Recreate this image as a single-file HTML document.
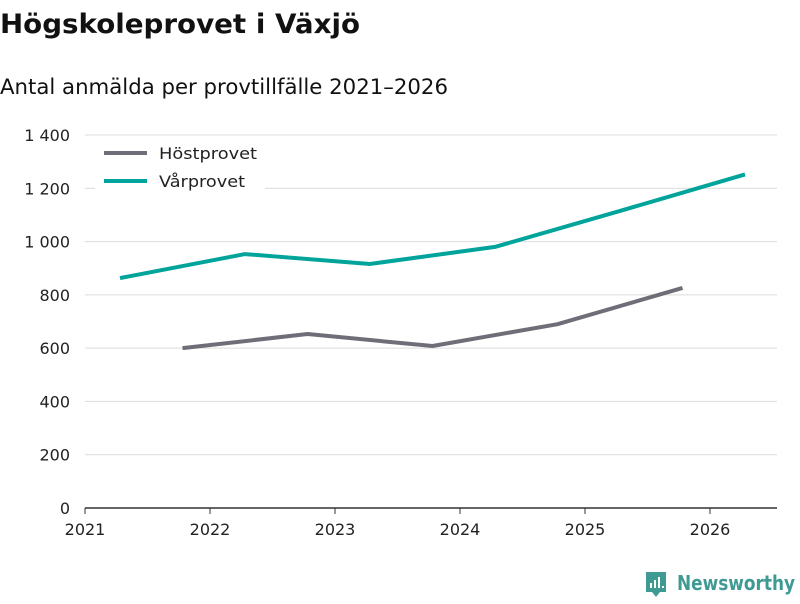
<!DOCTYPE html>
<html><head><meta charset="utf-8"><style>
body{margin:0;width:800px;height:600px;background:#fff;font-family:"DejaVu Sans","Liberation Sans",sans-serif;overflow:hidden}
</style></head><body>
<svg width="800" height="600" xmlns="http://www.w3.org/2000/svg" id="chart">
<text x="0" y="33" font-size="27" font-weight="bold" fill="#111" textLength="360" lengthAdjust="spacingAndGlyphs">Högskoleprovet i Växjö</text>
<text x="0" y="94" font-size="21" fill="#111" textLength="448" lengthAdjust="spacingAndGlyphs">Antal anmälda per provtillfälle 2021–2026</text>
<g id="grid"></g>
<g id="series"></g>
<g>
<rect x="95" y="140" width="170" height="58" fill="#fff"/>
<line x1="104" y1="153" x2="147" y2="153" stroke="#6e6e78" stroke-width="4"/>
<text x="159" y="159" font-size="16" fill="#222" textLength="98" lengthAdjust="spacingAndGlyphs">Höstprovet</text>
<line x1="104" y1="181" x2="147" y2="181" stroke="#00a49a" stroke-width="4"/>
<text x="159" y="187" font-size="16" fill="#222" textLength="86" lengthAdjust="spacingAndGlyphs">Vårprovet</text>
</g>
<g>
<path d="M646 572 h20 v20 h-6 l-4 5 l-4 -5 h-6 z" fill="#3f9a94"/>
<rect x="650" y="583" width="2" height="5" fill="#fff"/><rect x="654" y="580" width="2" height="8" fill="#fff"/><rect x="658" y="577" width="2" height="11" fill="#fff"/><rect x="662" y="586" width="2" height="2" fill="#fff"/>
<text x="677" y="590" font-size="20" font-weight="bold" fill="#3f9a94" textLength="118" lengthAdjust="spacingAndGlyphs">Newsworthy</text>
</g>
</svg>
<script>
const yTicks=[0,200,400,600,800,1000,1200,1400];
const yTickLabels=["0","200","400","600","800","1 000","1 200","1 400"];
const xTicks=[2021,2022,2023,2024,2025,2026];
const varDates=[2021.28,2022.28,2023.28,2024.28,2025.28,2026.28];
const varValues=[863,953,916,980,1115,1252];
const hostDates=[2021.78,2022.78,2023.78,2024.78,2025.78];
const hostValues=[600,653,608,690,826];
const NS="http://www.w3.org/2000/svg";
const X=v=>85+(v-2021)*125;
const Y=v=>508-v*(373/1400);
const grid=document.getElementById('grid');
function mk(t,a,p){const e=document.createElementNS(NS,t);for(const k in a)e.setAttribute(k,a[k]);p.appendChild(e);return e;}
yTicks.forEach((v,i)=>{
 if(v>0){const l=mk('line',{x1:85,x2:777,y1:Y(v),y2:Y(v),stroke:'#dcdcdc','stroke-width':1},grid);
 
 }
 const t=mk('text',{x:70,y:Y(v)+6,'font-size':16,'text-anchor':'end',fill:'#222'},grid);
 t.textContent=yTickLabels[i];
 
 
});
const ax=mk('line',{x1:85,x2:777,y1:508,y2:508,stroke:'#333','stroke-width':1.5},grid);


xTicks.forEach(v=>{
 mk('line',{x1:X(v),x2:X(v),y1:508,y2:514,stroke:'#333'},grid);
 const t=mk('text',{x:X(v),y:535,'font-size':16,'text-anchor':'middle',fill:'#222'},grid);
 t.textContent=v;
 
 
});
const s=document.getElementById('series');
const p1=mk('polyline',{points:hostDates.map((d,i)=>X(d)+','+Y(hostValues[i])).join(' '),fill:'none',stroke:'#6e6e78','stroke-width':4,'stroke-linejoin':'round'},s);


const p2=mk('polyline',{points:varDates.map((d,i)=>X(d)+','+Y(varValues[i])).join(' '),fill:'none',stroke:'#00a49a','stroke-width':4,'stroke-linejoin':'round'},s);


</script>
</body></html>
